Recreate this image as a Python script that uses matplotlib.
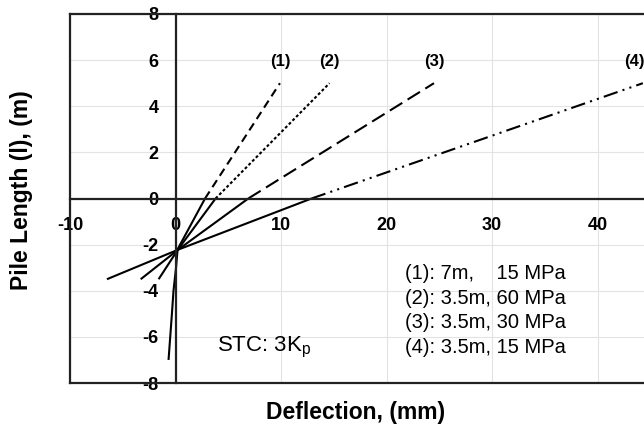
import matplotlib
matplotlib.use('Agg')
import matplotlib.pyplot as plt

plt.rcParams['font.family'] = ['Liberation Sans', 'DejaVu Sans']
plt.rcParams['axes.unicode_minus'] = False

# deflection (mm) vs pile length (m); solid part below ground, styled part above
low_y_1 = [-7, -6, -5, -4, -3, -2.2, 0]
low_x_1 = [-0.66, -0.5, -0.34, -0.19, 0.05, 0.2, 2.8]
up_y_1 = [0, 5]
up_x_1 = [2.8, 9.9]

low_y_2 = [-3.5, -2.2, 0]
low_x_2 = [-1.6, 0.25, 3.8]
up_y_2 = [0, 5]
up_x_2 = [3.8, 14.6]

low_y_3 = [-3.5, -2.2, 0]
low_x_3 = [-3.3, 0.3, 6.9]
up_y_3 = [0, 5]
up_x_3 = [6.9, 24.5]

low_y_4 = [-3.5, -2.2, 0]
low_x_4 = [-6.5, 0.35, 12.9]
up_y_4 = [0, 5]
up_x_4 = [12.9, 44.3]

tags = ['(1)', '(2)', '(3)', '(4)']
legend_lines = ['(1): 7m,    15 MPa', '(2): 3.5m, 60 MPa', '(3): 3.5m, 30 MPa', '(4): 3.5m, 15 MPa']
x_ticks = [-10, 0, 10, 20, 30, 40]
y_ticks = [-8, -6, -4, -2, 0, 2, 4, 6, 8]

fig = plt.figure(figsize=(6.44, 4.32), dpi=100)
ax = fig.add_axes([70/644, 49/432, 633/644, 369/432])
ax.set_xlim(-10, 50)
ax.set_ylim(-8, 8)
ax.set_xticks(x_ticks)
ax.set_yticks(y_ticks)
ax.grid(True, color='#e3e3e3', lw=0.8)
for gx in [50]:
    ax.axvline(gx, color='#e3e3e3', lw=0.8, zorder=0)
ax.set_axisbelow(True)

ax.spines['left'].set_position(('data', 0))
ax.spines['bottom'].set_position(('data', 0))
ax.spines['right'].set_visible(False)
for s in ['left', 'bottom', 'top']:
    ax.spines[s].set_linewidth(1.6)
    ax.spines[s].set_color('#222222')
ax.axvline(-10, color='#222222', lw=1.6, clip_on=False)
ax.axhline(-8, color='#222222', lw=1.6, clip_on=False)

ax.tick_params(length=0, labelsize=13)
ax.tick_params(axis='y', pad=12)
ax.tick_params(axis='x', pad=13)
for lb in ax.get_xticklabels() + ax.get_yticklabels():
    lb.set_fontweight('bold')

styles = [(0, (4, 2.5)), (0, (1.4, 1.1)), (0, (7, 3)), (0, (7, 2.5, 1, 2.5, 1, 2.5))]
lows = [(low_x_1, low_y_1), (low_x_2, low_y_2), (low_x_3, low_y_3), (low_x_4, low_y_4)]
ups = [(up_x_1, up_y_1), (up_x_2, up_y_2), (up_x_3, up_y_3), (up_x_4, up_y_4)]
for (lx, ly), (ux, uy), ls, tg in zip(lows, ups, styles, tags):
    ax.plot(lx, ly, color='black', lw=1.5, solid_capstyle='butt')
    ax.plot(ux, uy, color='black', lw=1.5, linestyle=ls)
    ax.text(ux[-1] - (0.8 if tg == '(4)' else 0), 5.95, tg, ha='center', va='center',
            fontsize=12, fontweight='bold', clip_on=True)

for i, s in enumerate(legend_lines):
    ax.text(21.8, -3.25 - 1.07 * i, s, ha='left', va='center', fontsize=14.5)

ax.text(3.9, -6.45, 'STC: 3K$_\\mathregular{p}$', ha='left', va='center', fontsize=16)

fig.text(356/644, 1 - 412/432, 'Deflection, (mm)', ha='center', va='center',
         fontsize=16.5, fontweight='bold')
fig.text(22/644, 1 - 190/432, 'Pile Length (l), (m)', ha='center', va='center',
         rotation=90, fontsize=16.5, fontweight='bold')

fig.savefig('out.png', dpi=100)
